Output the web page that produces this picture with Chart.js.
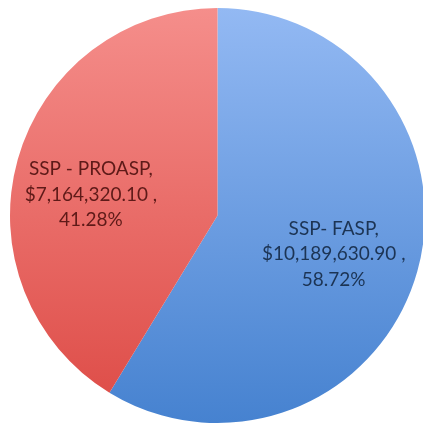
<!DOCTYPE html>
<html>
<head>
<meta charset="utf-8">
<script src="https://cdn.jsdelivr.net/npm/chart.js@4.4.1/dist/chart.umd.min.js"></script>
<style>
  html, body { margin: 0; padding: 0; background: #fff; overflow: hidden; }
  #wrap { width: 435px; height: 430px; }
</style>
</head>
<body>
<div id="wrap"><canvas id="pie"></canvas></div>
<script>
// data
const categories = ['SSP- FASP', 'SSP - PROASP'];
const amounts = [10189630.90, 7164320.10];
const percents = ['58.72%', '41.28%'];

// slice shading, light at the top to darker at the bottom
const topColors = ['#93b9f3', '#f58e8b'];
const bottomColors = ['#4682d0', '#dd4a45'];
const textColors = ['#1c3454', '#5e1a18'];

function money(v) {
    return '$' + v.toLocaleString('en-US', { minimumFractionDigits: 2, maximumFractionDigits: 2 });
}

function shade(ctx) {
    const chart = ctx.chart;
    const area = chart.chartArea;
    if (!area) return topColors[ctx.dataIndex];
    const g = chart.ctx.createLinearGradient(0, area.top, 0, area.bottom);
    g.addColorStop(0, topColors[ctx.dataIndex]);
    g.addColorStop(1, bottomColors[ctx.dataIndex]);
    return g;
}

// label centres as a fraction of the radius from the pie centre
const labelOffsets = [[0.56, 0.185], [-0.61, -0.10]];

const sliceLabels = {
    id: 'sliceLabels',
    afterDatasetsDraw(chart) {
        const c = chart.ctx;
        const meta = chart.getDatasetMeta(0);
        c.save();
        c.font = '19px Lato';
        c.textAlign = 'center';
        c.textBaseline = 'middle';
        meta.data.forEach((arc, i) => {
            const r = arc.outerRadius;
            const x = arc.x + labelOffsets[i][0] * r;
            const y = arc.y + labelOffsets[i][1] * r;
            const lines = [categories[i] + ',', money(amounts[i]) + ' ,', percents[i]];
            c.fillStyle = textColors[i];
            lines.forEach((t, k) => c.fillText(t, x, y + (k - 1) * 25.5));
        });
        c.restore();
    }
};

new Chart(document.getElementById('pie'), {
    type: 'pie',
    data: {
        labels: categories,
        datasets: [{
            data: amounts,
            backgroundColor: shade,
            borderWidth: 0
        }]
    },
    options: {
        responsive: true,
        maintainAspectRatio: false,
        animation: false,
        layout: { padding: { top: 8, bottom: 7, left: 10, right: 10 } },
        plugins: {
            legend: { display: false },
            tooltip: { enabled: false }
        }
    },
    plugins: [sliceLabels]
});
</script>
</body>
</html>
